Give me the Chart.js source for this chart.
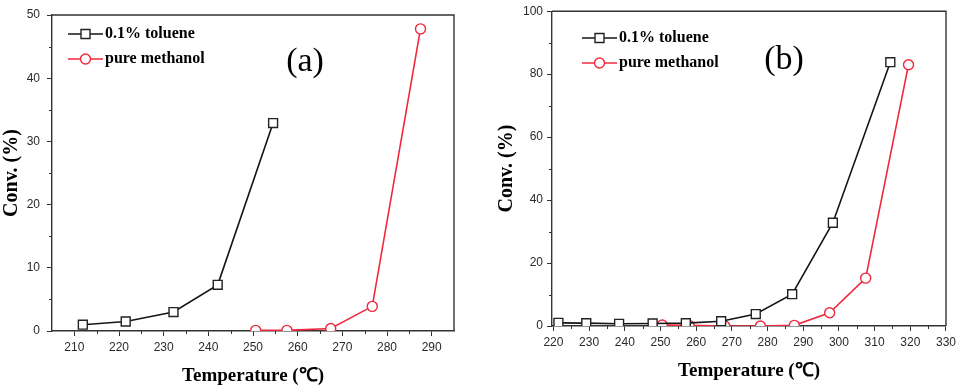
<!DOCTYPE html>
<html>
<head>
<meta charset="utf-8">
<script src="https://cdn.jsdelivr.net/npm/chart.js@4.4.1/dist/chart.umd.min.js"></script>
<style>
  html, body { margin: 0; background: #fff; width: 960px; height: 390px; overflow: hidden; }
  canvas { position: absolute; top: 0; }
  #chartA { left: 0; }
  #chartB { left: 480px; }
</style>
</head>
<body>
<canvas id="chartA" width="475" height="390"></canvas>
<canvas id="chartB" width="480" height="390"></canvas>
<script>
// ---- panel (a) ----
const TEMP_A_TOL = [211.9, 221.5, 232.2, 242.1, 254.5];
const CONV_A_TOL = [1.0, 1.5, 3.0, 7.3, 32.9];
const TEMP_A_MET = [250.6, 257.6, 267.4, 276.7, 287.5];
const CONV_A_MET = [0.1, 0.1, 0.4, 3.9, 47.8];
const X_TICKS_A = [210, 220, 230, 240, 250, 260, 270, 280, 290];
const X_MINOR_A = [215, 225, 235, 245, 255, 265, 275, 285];
const Y_TICKS_A = [0, 10, 20, 30, 40, 50];
const Y_MINOR_A = [5, 15, 25, 35, 45];

// ---- panel (b) ----
const TEMP_B_TOL = [221.4, 229.2, 238.4, 247.8, 257.1, 267.0, 276.7, 286.9, 298.3, 314.4];
const CONV_B_TOL = [1.0, 0.9, 0.7, 0.8, 0.9, 1.5, 3.8, 10.1, 32.8, 83.8];
const TEMP_B_MET = [250.5, 258.0, 268.0, 278.0, 287.5, 297.4, 307.5, 319.5];
const CONV_B_MET = [0.3, 0.2, 0.0, 0.0, 0.2, 4.2, 15.2, 83.0];
const X_TICKS_B = [220, 230, 240, 250, 260, 270, 280, 290, 300, 310, 320, 330];
const X_MINOR_B = [225, 235, 245, 255, 265, 275, 285, 295, 305, 315, 325];
const Y_TICKS_B = [0, 20, 40, 60, 80, 100];
const Y_MINOR_B = [10, 30, 50, 70, 90];

const SERIES_NAMES = ["0.1% toluene", "pure methanol"];

const BLACK = "#151515";
const RED = "#f0283c";
const FRAME = "#333";
const SERIF = "'Liberation Serif', 'Times New Roman', serif";
const SANS = "'Liberation Sans', Arial, sans-serif";

const pts = (xs, ys) => xs.map((x, i) => ({ x: x, y: ys[i] }));

function drawMarker(g, style, x, y, color) {
  g.save();
  g.fillStyle = "#fff";
  g.strokeStyle = color;
  g.lineWidth = 1.4;
  g.beginPath();
  if (style === "rect") g.rect(x - 4.5, y - 4.5, 9, 9);
  else g.arc(x, y, 5, 0, Math.PI * 2);
  g.fill();
  g.stroke();
  g.restore();
}

// frame top/right, minor ticks, legend, panel letter
const extras = {
  id: "extras",
  afterDraw(chart, args, o) {
    const g = chart.ctx;
    const a = chart.chartArea;
    const xs = chart.scales.x, ys = chart.scales.y;
    g.save();
    g.strokeStyle = FRAME;
    g.lineWidth = 1.4;
    g.beginPath();
    g.moveTo(a.left, a.top); g.lineTo(a.right, a.top); g.lineTo(a.right, a.bottom);
    g.stroke();

    g.lineWidth = 1;
    g.beginPath();
    o.xMinor.forEach(v => {
      const px = Math.round(xs.getPixelForValue(v)) + 0.5;
      g.moveTo(px, a.bottom); g.lineTo(px, a.bottom + 3);
    });
    o.yMinor.forEach(v => {
      const py = Math.round(ys.getPixelForValue(v)) + 0.5;
      g.moveTo(a.left - 3, py); g.lineTo(a.left, py);
    });
    g.stroke();

    // legend
    chart.data.datasets.forEach((ds, i) => {
      const y = o.legendY + i * 25;
      g.strokeStyle = ds.borderColor;
      g.lineWidth = 1.6;
      g.beginPath();
      g.moveTo(o.legendX, y); g.lineTo(o.legendX + 35, y);
      g.stroke();
      drawMarker(g, ds.pointStyle, o.legendX + 17.5, y, ds.pointBorderColor);
      g.fillStyle = "#000";
      g.font = "bold 16px " + SERIF;
      g.textBaseline = "middle";
      g.textAlign = "left";
      g.fillText(ds.label, o.legendX + 37, y);
    });

    g.fillStyle = "#000";
    g.font = "34px " + SERIF;
    g.textAlign = "center";
    g.textBaseline = "middle";
    g.fillText(o.letter, o.letterX, o.letterY);
    g.restore();
  }
};

function makeChart(id, cfg) {
  return new Chart(document.getElementById(id), {
    type: "line",
    data: {
      datasets: [
        {
          label: SERIES_NAMES[0],
          data: pts(cfg.tolX, cfg.tolY),
          borderColor: BLACK,
          borderWidth: 1.6,
          pointStyle: "rect",
          pointRadius: 6.3,
          pointBorderWidth: 1.4,
          pointBackgroundColor: "#fff",
          pointBorderColor: "#222",
          tension: 0
        },
        {
          label: SERIES_NAMES[1],
          data: pts(cfg.metX, cfg.metY),
          borderColor: RED,
          borderWidth: 1.6,
          pointStyle: "circle",
          pointRadius: 5,
          pointBorderWidth: 1.4,
          pointBackgroundColor: "#fff",
          pointBorderColor: RED,
          tension: 0
        }
      ]
    },
    options: {
      responsive: false,
      animation: false,
      layout: { padding: { top: cfg.top, right: cfg.right, left: 0, bottom: 0 } },
      plugins: {
        legend: { display: false },
        tooltip: { enabled: false },
        extras: {
          xMinor: cfg.xMinor, yMinor: cfg.yMinor,
          legendX: cfg.legendX, legendY: cfg.legendY,
          letter: cfg.letter, letterX: cfg.letterX, letterY: cfg.letterY
        }
      },
      scales: {
        x: {
          type: "linear",
          min: cfg.xMin, max: cfg.xMax,
          afterBuildTicks: s => { s.ticks = cfg.xTicks.map(v => ({ value: v })); },
          afterFit: s => { s.height = cfg.xHeight; },
          grid: { drawOnChartArea: false, tickLength: 5, tickColor: FRAME, tickWidth: 1 },
          border: { color: FRAME, width: 1.4 },
          ticks: { color: "#2a2a2a", font: { family: SANS, size: 12 }, padding: 4, maxRotation: 0 },
          title: {
            display: true, text: "Temperature (℃)", color: "#000",
            font: { family: SERIF, size: 19, weight: "bold" },
            padding: { top: 0, bottom: cfg.xTitlePad }
          }
        },
        y: {
          min: cfg.yMin, max: cfg.yMax,
          afterBuildTicks: s => { s.ticks = cfg.yTicks.map(v => ({ value: v })); },
          afterFit: s => { s.width = cfg.yWidth; },
          grid: { drawOnChartArea: false, tickLength: 5, tickColor: FRAME, tickWidth: 1 },
          border: { color: FRAME, width: 1.4 },
          ticks: { color: "#2a2a2a", font: { family: SANS, size: 12 }, padding: cfg.yTickPad },
          title: {
            display: true, text: "Conv. (%)", color: "#000",
            font: { family: SERIF, size: 20, weight: "bold" },
            padding: { top: cfg.yTitlePad, bottom: 0 }
          }
        }
      }
    },
    plugins: [extras]
  });
}

makeChart("chartA", {
  tolX: TEMP_A_TOL, tolY: CONV_A_TOL, metX: TEMP_A_MET, metY: CONV_A_MET,
  xMin: 205, xMax: 295, yMin: 0, yMax: 50,
  xTicks: X_TICKS_A, xMinor: X_MINOR_A, yTicks: Y_TICKS_A, yMinor: Y_MINOR_A,
  top: 15, right: 21, yWidth: 52, xHeight: 59,
  yTickPad: 7, xTitlePad: 3, yTitlePad: 0,
  legendX: 68, legendY: 34, letter: "(a)", letterX: 305, letterY: 62
});

makeChart("chartB", {
  tolX: TEMP_B_TOL, tolY: CONV_B_TOL, metX: TEMP_B_MET, metY: CONV_B_MET,
  xMin: 219.6, xMax: 330, yMin: 0, yMax: 100,
  xTicks: X_TICKS_B, xMinor: X_MINOR_B, yTicks: Y_TICKS_B, yMinor: Y_MINOR_B,
  top: 9, right: 14, yWidth: 72, xHeight: 64,
  yTickPad: 4, xTitlePad: 8, yTitlePad: 15,
  legendX: 102, legendY: 38, letter: "(b)", letterX: 304, letterY: 60
});
</script>
</body>
</html>
